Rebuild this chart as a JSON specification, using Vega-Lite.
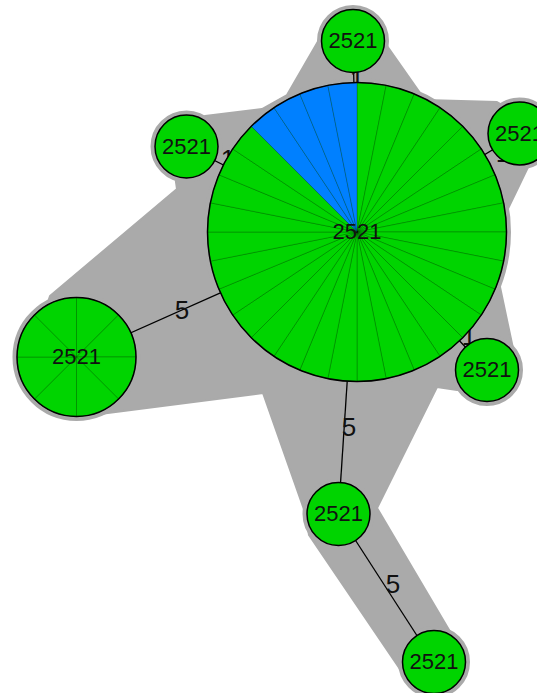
{
  "$schema": "https://vega.github.io/schema/vega-lite/v6.json",
  "width": 537,
  "height": 693,
  "autosize": "none",
  "padding": 0,
  "background": "white",
  "config": {"view": {"stroke": null}, "axis": {"disable": true}},
  "datasets": {
    "nodes": [
      {"id": "C", "x": 357, "y": 232, "n": 32, "st": "2521"},
      {"id": "T", "x": 353, "y": 41, "n": 1, "st": "2521"},
      {"id": "UL", "x": 186.5, "y": 146.5, "n": 1, "st": "2521"},
      {"id": "R", "x": 519.5, "y": 133.5, "n": 1, "st": "2521"},
      {"id": "LR", "x": 487, "y": 370, "n": 1, "st": "2521"},
      {"id": "L", "x": 76.5, "y": 357, "n": 8, "st": "2521"},
      {"id": "BM", "x": 338.5, "y": 514, "n": 1, "st": "2521"},
      {"id": "B", "x": 434, "y": 662, "n": 1, "st": "2521"}
    ],
    "edges": [
      {"s": "C", "t": "T", "d": "1", "lx": 357, "ly": 80},
      {"s": "C", "t": "UL", "d": "1", "lx": 228, "ly": 160},
      {"s": "C", "t": "R", "d": "1", "lx": 503, "ly": 154},
      {"s": "C", "t": "LR", "d": "1", "lx": 469, "ly": 337},
      {"s": "C", "t": "L", "d": "5", "lx": 182, "ly": 311},
      {"s": "C", "t": "BM", "d": "5", "lx": 349, "ly": 428},
      {"s": "BM", "t": "B", "d": "5", "lx": 393, "ly": 585}
    ],
    "slices": [
      {"id": "C", "f0": 0, "f1": 0.03125, "g": "a"},
      {"id": "C", "f0": 0.03125, "f1": 0.0625, "g": "a"},
      {"id": "C", "f0": 0.0625, "f1": 0.09375, "g": "a"},
      {"id": "C", "f0": 0.09375, "f1": 0.125, "g": "a"},
      {"id": "C", "f0": 0.125, "f1": 0.15625, "g": "a"},
      {"id": "C", "f0": 0.15625, "f1": 0.1875, "g": "a"},
      {"id": "C", "f0": 0.1875, "f1": 0.21875, "g": "a"},
      {"id": "C", "f0": 0.21875, "f1": 0.25, "g": "a"},
      {"id": "C", "f0": 0.25, "f1": 0.28125, "g": "a"},
      {"id": "C", "f0": 0.28125, "f1": 0.3125, "g": "a"},
      {"id": "C", "f0": 0.3125, "f1": 0.34375, "g": "a"},
      {"id": "C", "f0": 0.34375, "f1": 0.375, "g": "a"},
      {"id": "C", "f0": 0.375, "f1": 0.40625, "g": "a"},
      {"id": "C", "f0": 0.40625, "f1": 0.4375, "g": "a"},
      {"id": "C", "f0": 0.4375, "f1": 0.46875, "g": "a"},
      {"id": "C", "f0": 0.46875, "f1": 0.5, "g": "a"},
      {"id": "C", "f0": 0.5, "f1": 0.53125, "g": "a"},
      {"id": "C", "f0": 0.53125, "f1": 0.5625, "g": "a"},
      {"id": "C", "f0": 0.5625, "f1": 0.59375, "g": "a"},
      {"id": "C", "f0": 0.59375, "f1": 0.625, "g": "a"},
      {"id": "C", "f0": 0.625, "f1": 0.65625, "g": "a"},
      {"id": "C", "f0": 0.65625, "f1": 0.6875, "g": "a"},
      {"id": "C", "f0": 0.6875, "f1": 0.71875, "g": "a"},
      {"id": "C", "f0": 0.71875, "f1": 0.75, "g": "a"},
      {"id": "C", "f0": 0.75, "f1": 0.78125, "g": "a"},
      {"id": "C", "f0": 0.78125, "f1": 0.8125, "g": "a"},
      {"id": "C", "f0": 0.8125, "f1": 0.84375, "g": "a"},
      {"id": "C", "f0": 0.84375, "f1": 0.875, "g": "a"},
      {"id": "C", "f0": 0.875, "f1": 0.90625, "g": "b"},
      {"id": "C", "f0": 0.90625, "f1": 0.9375, "g": "b"},
      {"id": "C", "f0": 0.9375, "f1": 0.96875, "g": "b"},
      {"id": "C", "f0": 0.96875, "f1": 1, "g": "b"},
      {"id": "L", "f0": 0, "f1": 0.125, "g": "a"},
      {"id": "L", "f0": 0.125, "f1": 0.25, "g": "a"},
      {"id": "L", "f0": 0.25, "f1": 0.375, "g": "a"},
      {"id": "L", "f0": 0.375, "f1": 0.5, "g": "a"},
      {"id": "L", "f0": 0.5, "f1": 0.625, "g": "a"},
      {"id": "L", "f0": 0.625, "f1": 0.75, "g": "a"},
      {"id": "L", "f0": 0.75, "f1": 0.875, "g": "a"},
      {"id": "L", "f0": 0.875, "f1": 1, "g": "a"}
    ],
    "hull": [
      {"i": 1, "x": 353, "y": 8},
      {"i": 2, "x": 320, "y": 38},
      {"i": 3, "x": 287, "y": 95},
      {"i": 4, "x": 262, "y": 109},
      {"i": 5, "x": 205, "y": 116},
      {"i": 6, "x": 170, "y": 140},
      {"i": 7, "x": 177, "y": 189},
      {"i": 8, "x": 50, "y": 296},
      {"i": 9, "x": 30, "y": 357},
      {"i": 10, "x": 100, "y": 414},
      {"i": 11, "x": 263, "y": 393},
      {"i": 12, "x": 306, "y": 515},
      {"i": 13, "x": 309, "y": 535},
      {"i": 14, "x": 404, "y": 675},
      {"i": 15, "x": 465, "y": 657},
      {"i": 16, "x": 377, "y": 508},
      {"i": 17, "x": 437, "y": 387},
      {"i": 18, "x": 457, "y": 390},
      {"i": 19, "x": 518, "y": 372},
      {"i": 20, "x": 500, "y": 287},
      {"i": 21, "x": 498, "y": 260},
      {"i": 22, "x": 505, "y": 215},
      {"i": 23, "x": 530, "y": 163},
      {"i": 24, "x": 550, "y": 133},
      {"i": 25, "x": 497, "y": 102},
      {"i": 26, "x": 425, "y": 100},
      {"i": 27, "x": 385, "y": 43}
    ]
  },
  "layer": [
    {
      "data": {"name": "hull"},
      "mark": {"type": "line", "interpolate": "linear-closed", "fill": "#aaaaaa", "stroke": "#aaaaaa", "strokeWidth": 2, "strokeJoin": "round"},
      "encoding": {
        "x": {"field": "x", "type": "quantitative", "scale": {"domain": [0, 537], "nice": false, "zero": false}},
        "y": {"field": "y", "type": "quantitative", "scale": {"domain": [0, 693], "nice": false, "zero": false, "reverse": true}},
        "order": {"field": "i", "type": "quantitative"}
      }
    },
    {
      "data": {"name": "nodes"},
      "mark": {"type": "point", "shape": "circle", "filled": true, "fill": "#aaaaaa", "stroke": "#aaaaaa", "strokeWidth": 9, "opacity": 1},
      "encoding": {
        "x": {"field": "x", "type": "quantitative", "scale": {"domain": [0, 537], "nice": false, "zero": false}},
        "y": {"field": "y", "type": "quantitative", "scale": {"domain": [0, 693], "nice": false, "zero": false, "reverse": true}},
        "size": {"field": "n", "type": "quantitative", "scale": {"type": "linear", "domain": [1, 8, 32], "range": [3969, 14161, 89401], "zero": false, "nice": false}, "legend": null}
      }
    },
    {
      "data": {"name": "edges"},
      "transform": [
        {"lookup": "s", "from": {"data": {"name": "nodes"}, "key": "id", "fields": ["x", "y"]}, "as": ["sx", "sy"]},
        {"lookup": "t", "from": {"data": {"name": "nodes"}, "key": "id", "fields": ["x", "y"]}, "as": ["tx", "ty"]}
      ],
      "mark": {"type": "rule", "color": "#000000", "strokeWidth": 1.3},
      "encoding": {
        "x": {"field": "sx", "type": "quantitative", "scale": {"domain": [0, 537], "nice": false, "zero": false}},
        "y": {"field": "sy", "type": "quantitative", "scale": {"domain": [0, 693], "nice": false, "zero": false, "reverse": true}},
        "x2": {"field": "tx"},
        "y2": {"field": "ty"}
      }
    },
    {
      "data": {"name": "edges"},
      "mark": {"type": "text", "font": "Liberation Sans", "fontSize": 26, "color": "#111111", "align": "center", "baseline": "middle"},
      "encoding": {
        "x": {"field": "lx", "type": "quantitative", "scale": {"domain": [0, 537], "nice": false, "zero": false}},
        "y": {"field": "ly", "type": "quantitative", "scale": {"domain": [0, 693], "nice": false, "zero": false, "reverse": true}},
        "text": {"field": "d"}
      }
    },
    {
      "data": {"name": "nodes"},
      "mark": {"type": "point", "shape": "circle", "filled": true, "fill": "#00d400", "strokeWidth": 0, "opacity": 1},
      "encoding": {
        "x": {"field": "x", "type": "quantitative", "scale": {"domain": [0, 537], "nice": false, "zero": false}},
        "y": {"field": "y", "type": "quantitative", "scale": {"domain": [0, 693], "nice": false, "zero": false, "reverse": true}},
        "size": {"field": "n", "type": "quantitative", "scale": {"type": "linear", "domain": [1, 8, 32], "range": [3969, 14161, 89401], "zero": false, "nice": false}, "legend": null}
      }
    },
    {
      "data": {"name": "slices"},
      "transform": [
        {"lookup": "id", "from": {"data": {"name": "nodes"}, "key": "id", "fields": ["x", "y", "n"]}}
      ],
      "mark": {"type": "arc", "radius2": 0, "stroke": "#000000", "strokeOpacity": 0.3, "strokeWidth": 0.7},
      "encoding": {
        "x": {"field": "x", "type": "quantitative", "scale": {"domain": [0, 537], "nice": false, "zero": false}},
        "y": {"field": "y", "type": "quantitative", "scale": {"domain": [0, 693], "nice": false, "zero": false, "reverse": true}},
        "radius": {"field": "n", "type": "quantitative", "scale": {"type": "linear", "domain": [1, 8, 32], "range": [31.5, 59.5, 149.5], "zero": false, "nice": false}},
        "theta": {"field": "f0", "type": "quantitative", "scale": {"domain": [0, 1], "range": [0, 6.283185307179586]}},
        "theta2": {"field": "f1"},
        "color": {"field": "g", "type": "nominal", "scale": {"domain": ["a", "b"], "range": ["#00d400", "#0080ff"]}, "legend": null}
      }
    },
    {
      "data": {"name": "nodes"},
      "mark": {"type": "point", "shape": "circle", "filled": false, "fill": null, "stroke": "#000000", "strokeWidth": 1.5, "opacity": 1},
      "encoding": {
        "x": {"field": "x", "type": "quantitative", "scale": {"domain": [0, 537], "nice": false, "zero": false}},
        "y": {"field": "y", "type": "quantitative", "scale": {"domain": [0, 693], "nice": false, "zero": false, "reverse": true}},
        "size": {"field": "n", "type": "quantitative", "scale": {"type": "linear", "domain": [1, 8, 32], "range": [3969, 14161, 89401], "zero": false, "nice": false}, "legend": null}
      }
    },
    {
      "data": {"name": "nodes"},
      "mark": {"type": "text", "font": "Liberation Sans", "fontSize": 22, "color": "#111111", "align": "center", "baseline": "middle"},
      "encoding": {
        "x": {"field": "x", "type": "quantitative", "scale": {"domain": [0, 537], "nice": false, "zero": false}},
        "y": {"field": "y", "type": "quantitative", "scale": {"domain": [0, 693], "nice": false, "zero": false, "reverse": true}},
        "text": {"field": "st"}
      }
    }
  ]
}
